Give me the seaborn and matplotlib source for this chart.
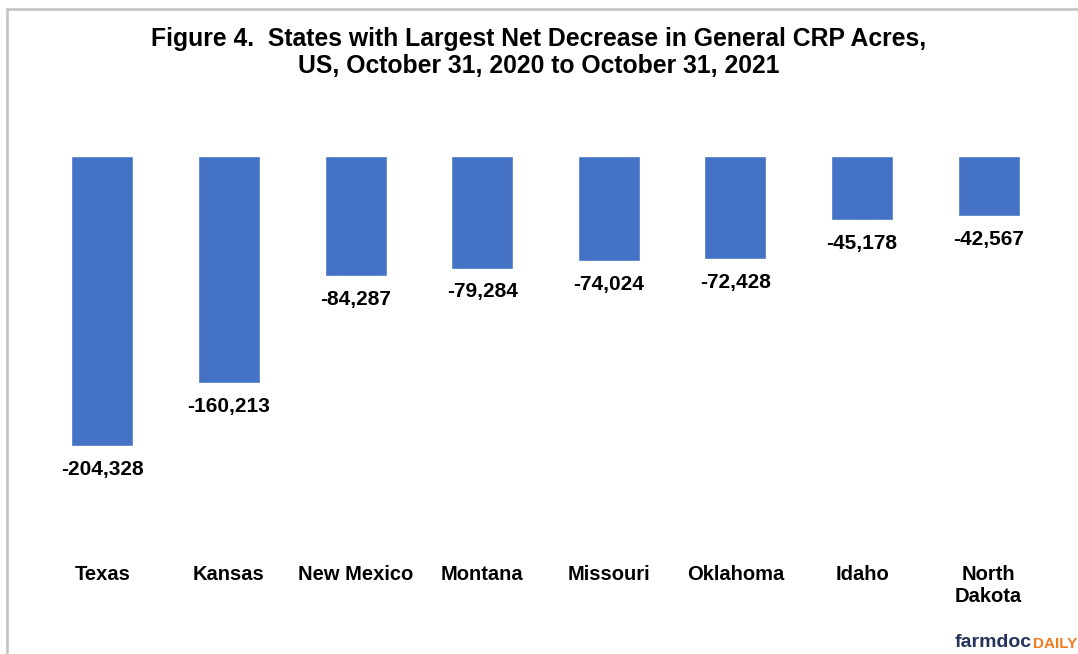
import matplotlib
matplotlib.use("Agg")
import matplotlib.pyplot as plt
import seaborn as sns
import pandas as pd
from matplotlib.patches import Rectangle

states = ["Texas", "Kansas", "New Mexico", "Montana", "Missouri", "Oklahoma", "Idaho", "North\nDakota"]
changes = [-204328, -160213, -84287, -79284, -74024, -72428, -45178, -42567]
title = "Figure 4.  States with Largest Net Decrease in General CRP Acres,\nUS, October 31, 2020 to October 31, 2021"

sns.set_theme(style="white")
plt.rcParams['font.family'] = ['Liberation Sans', 'DejaVu Sans']

df = pd.DataFrame({"state": states, "change": changes})

W, H = 1078, 654
fig = plt.figure(figsize=(W / 100, H / 100), dpi=100)
ax = fig.add_axes([39 / W, 1 - 555 / H, (1052 - 39) / W, (555 - 156) / H])

sns.barplot(data=df, x="state", y="change", color="#4472C4", width=0.49,
            saturation=1, ax=ax)
ax.set_ylim(-281000, 0)
ax.set_xlim(-0.5, len(states) - 0.5)

for c in ax.containers:
    ax.bar_label(c, labels=[f"{v:,.0f}" for v in changes], padding=10,
                 fontsize=15, fontweight="bold", color="black")

ax.set_xlabel("")
ax.set_ylabel("")
ax.set_yticks([])
ax.tick_params(axis="x", length=0, pad=7)
for lbl in ax.get_xticklabels():
    lbl.set_fontsize(14.5)
    lbl.set_fontweight("bold")
    lbl.set_color("black")
    lbl.set_multialignment("center")
for s in ax.spines.values():
    s.set_visible(False)

fig.text(0.5, 1 - 27 / H, title, ha="center", va="top", fontsize=17.8,
         fontweight="bold", color="black", linespacing=1.15)

# border
fig.patches.append(Rectangle((6.5 / W, -0.1), 1.2, 1 - 8.5 / H + 0.1,
                             transform=fig.transFigure, fill=False,
                             edgecolor="#c0c0c0", linewidth=1.8))

# watermark
t1 = fig.text(955 / W, 1 - 647 / H, "farmdoc", fontsize=14, fontweight="bold",
              color="#24335a", ha="left", va="baseline")
ax.annotate("DAILY", xy=(1, 0), xycoords=t1, xytext=(0.5, 0),
            textcoords="offset points", fontsize=11, fontweight="bold",
            color="#f07c22", ha="left", va="bottom", annotation_clip=False)

fig.savefig("out.png", dpi=100)
